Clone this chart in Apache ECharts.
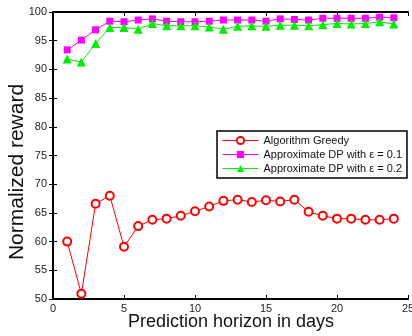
<!DOCTYPE html>
<html><head><meta charset="utf-8">
<script src="https://cdn.jsdelivr.net/npm/echarts@6/dist/echarts.min.js"></script>
<style>html,body{margin:0;padding:0;background:#fff}#c{width:412px;height:336px}</style>
</head><body><div id="c"></div>
<script>
const days = [1,2,3,4,5,6,7,8,9,10,11,12,13,14,15,16,17,18,19,20,21,22,23,24];
const greedy = [60.0,50.9,66.6,68.0,59.1,62.7,63.8,64.0,64.5,65.3,66.1,67.1,67.3,66.9,67.2,67.0,67.3,65.2,64.5,64.0,64.0,63.8,63.8,64.0];
const dp01 = [93.4,95.1,96.9,98.4,98.3,98.6,98.8,98.4,98.3,98.3,98.4,98.6,98.6,98.6,98.4,98.8,98.7,98.6,98.9,98.9,98.9,98.9,99.1,99.0];
const dp02 = [91.8,91.3,94.5,97.3,97.3,97.0,98.0,97.6,97.6,97.6,97.4,97.0,97.5,97.6,97.5,97.7,97.7,97.6,97.8,98.0,97.9,98.0,98.3,97.9];
const names = ['Algorithm Greedy','Approximate DP with \u03b5 = 0.1','Approximate DP with \u03b5 = 0.2'];
const xTicks = [0,25,5];
const yTicks = [50,100,5];
const xTitle = 'Prediction horizon in days';
const yTitle = 'Normalized reward';

const font = 'Liberation Sans, Arial, sans-serif';
const pair = (arr) => days.map((d,i)=>[d,arr[i]]);
const chart = echarts.init(document.getElementById('c'), null, {renderer:'canvas'});
const axLine = {show:true, lineStyle:{color:'#000', width:2}};
chart.setOption({
  animation:false,
  backgroundColor:'#fff',
  grid:{left:53, right:4, top:12, bottom:37, containLabel:false, outerBoundsMode:'none'},
  graphic:[{
    type:'text', x:17, y:172, rotation:Math.PI/2,
    style:{text:yTitle, fill:'#111', font:'21px ' + font, align:'center', verticalAlign:'middle'}
  },{
    type:'text', x:231, y:322,
    style:{text:xTitle, fill:'#111', font:'18px ' + font, align:'center', verticalAlign:'middle'}
  }],
  xAxis:[{
    type:'value', min:xTicks[0], max:xTicks[1], interval:xTicks[2],
    axisLine:axLine, axisTick:{show:true, inside:true, length:4, lineStyle:{color:'#000'}},
    axisLabel:{color:'#222', fontFamily:font, fontSize:11, margin:4, showMaxLabel:true},
    splitLine:{show:false}
  },{
    type:'value', position:'top', min:xTicks[0], max:xTicks[1], interval:xTicks[2],
    axisLine:axLine, axisTick:{show:true, inside:true, length:4, lineStyle:{color:'#000'}},
    axisLabel:{show:false}, splitLine:{show:false}
  }],
  yAxis:[{
    type:'value', min:yTicks[0], max:yTicks[1], interval:yTicks[2],
    axisLine:axLine, axisTick:{show:true, inside:true, length:4, lineStyle:{color:'#000'}},
    axisLabel:{color:'#222', fontFamily:font, fontSize:11, margin:6},
    splitLine:{show:false}
  },{
    type:'value', position:'right', min:yTicks[0], max:yTicks[1], interval:yTicks[2],
    axisLine:axLine, axisTick:{show:true, inside:true, length:4, lineStyle:{color:'#000'}},
    axisLabel:{show:false}, splitLine:{show:false}
  }],
  legend:{
    orient:'vertical', left:217, top:131,
    backgroundColor:'#fff', borderColor:'#000', borderWidth:1.5,
    padding:[4,5,4,5], itemGap:3, itemWidth:36, itemHeight:9,
    lineStyle:{width:1},
    textStyle:{fontFamily:font, fontSize:11, color:'#111'},
    data:names
  },
  series:[
    {name:names[0], type:'line', data:pair(greedy), symbol:'emptyCircle', symbolSize:8,
     itemStyle:{color:'#ff0000', borderWidth:1.2}, lineStyle:{color:'#ff0000', width:1}},
    {name:names[1], type:'line', data:pair(dp01), symbol:'rect', symbolSize:7,
     itemStyle:{color:'#ff00ff'}, lineStyle:{color:'#ff00ff', width:1}},
    {name:names[2], type:'line', data:pair(dp02), symbol:'triangle', symbolSize:9,
     itemStyle:{color:'#00ee00'}, lineStyle:{color:'#00ee00', width:1}}
  ]
});
</script></body></html>
